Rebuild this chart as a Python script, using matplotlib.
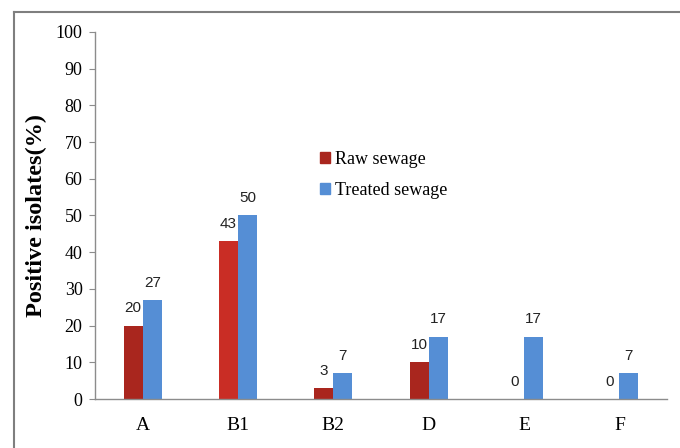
import matplotlib
matplotlib.use("Agg")
import matplotlib.pyplot as plt
from matplotlib.lines import Line2D
from matplotlib.patches import Patch
import numpy as np

categories = ["A", "B1", "B2", "D", "E", "F"]
raw_sewage = [20, 43, 3, 10, 0, 0]
treated_sewage = [27, 50, 7, 17, 17, 7]

raw_colors = ["#A9261E", "#C92D25", "#A9261E", "#A9261E", "#A9261E", "#A9261E"]
treated_color = "#558ED5"
axis_gray = "#8C8C8C"

serif = ["Liberation Serif", "DejaVu Serif"]
sans = ["Liberation Sans", "DejaVu Sans"]

fig = plt.figure(figsize=(6.8, 4.48), dpi=100)
ax = fig.add_axes([95 / 680, 1 - 399 / 448, 572 / 680, 367 / 448])

x = np.arange(len(categories))
w = 0.2
bars_raw = ax.bar(x - w / 2, raw_sewage, w, color=raw_colors, label="Raw sewage")
bars_trt = ax.bar(x + w / 2, treated_sewage, w, color=treated_color, label="Treated sewage")

for bars, vals in ((bars_raw, raw_sewage), (bars_trt, treated_sewage)):
    for b, v in zip(bars, vals):
        ax.annotate(f"{v}", (b.get_x() + b.get_width() / 2, v),
                    xytext=(0, 12.5), textcoords="offset points",
                    ha="center", va="center", fontsize=11, family=sans,
                    color="#222222")

ax.set_xlim(-0.5, len(categories) - 0.5)
ax.set_ylim(0, 100)
ax.set_yticks(range(0, 101, 10))
ax.set_xticks(x)
ax.set_xticklabels(categories, family=serif, fontsize=14)
for t in ax.get_yticklabels():
    t.set_family(serif)
    t.set_fontsize(13)
ax.tick_params(axis="y", length=4, color=axis_gray, width=0.8, pad=5)
ax.tick_params(axis="x", length=0, pad=13)

for s in ("top", "right"):
    ax.spines[s].set_visible(False)
for s in ("left", "bottom"):
    ax.spines[s].set_color(axis_gray)
    ax.spines[s].set_linewidth(1.0)

ax.set_ylabel("Positive isolates(%)", family=serif, fontsize=17.5,
              fontweight="bold", labelpad=6)

handles = [Patch(color="#A9261E"), Patch(color=treated_color)]
leg = ax.legend(handles, ["Raw sewage", "Treated sewage"], loc="upper left",
                bbox_to_anchor=(0.365, 0.72), frameon=False,
                prop={"family": serif, "size": 13}, handlelength=0.55,
                handleheight=0.55, handletextpad=0.3, labelspacing=0.75)

# outer frame
frame_kw = dict(color="#7F7F7F", linewidth=1.5, transform=fig.transFigure)
fig.add_artist(Line2D([14 / 680, 1.0], [1 - 12 / 448, 1 - 12 / 448], **frame_kw))
fig.add_artist(Line2D([14 / 680, 14 / 680], [0.0, 1 - 12 / 448], **frame_kw))

fig.savefig("out.png", dpi=100)
